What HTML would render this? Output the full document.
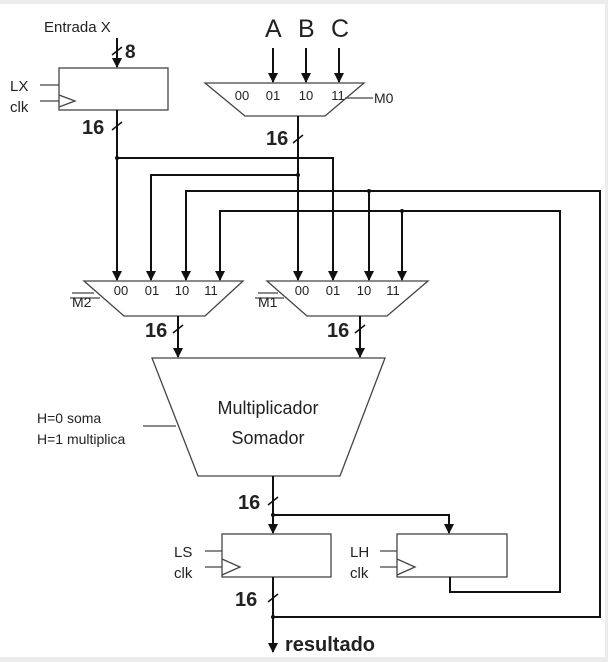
<!DOCTYPE html>
<html><head><style>
html,body{margin:0;padding:0;background:#fff}
svg{display:block}
text{font-family:"Liberation Sans",sans-serif;fill:#222}
</style></head><body>
<svg width="608" height="662" viewBox="0 0 608 662" xmlns="http://www.w3.org/2000/svg">
<defs>
<marker id="a" markerWidth="10" markerHeight="10" refX="5" refY="9" orient="0" markerUnits="userSpaceOnUse">
<path d="M0,0 L10,0 L5,10 Z" fill="#111"/></marker>
</defs>
<rect x="0" y="0" width="608" height="4" fill="#ececec"/>
<rect x="0" y="657" width="608" height="5" fill="#ececec"/>
<rect x="605" y="0" width="3" height="662" fill="#ececec"/>

<g stroke="#444" stroke-width="1.3" fill="none">
<rect x="59" y="68" width="109" height="42"/>
<path d="M59,95 L75,101 L59,107"/>
<line x1="40" y1="85" x2="59" y2="85"/>
<line x1="40" y1="101" x2="59" y2="101"/>
<polygon points="205,83 364,83 325,116 245,116"/>
<line x1="345" y1="98" x2="373" y2="98"/>
<polygon points="84,281 243,281 205,316 124,316"/>
<line x1="70" y1="298" x2="100" y2="298"/>
<polygon points="267,281 428,281 387,316 307,316"/>
<line x1="255" y1="298" x2="284" y2="298"/>
<polygon points="152,358 385,358 340,476 198,476"/>
<line x1="143" y1="426" x2="176" y2="426"/>
<rect x="222" y="534" width="109" height="43"/>
<path d="M222,559 L240,567 L222,575"/>
<line x1="205" y1="551" x2="222" y2="551"/>
<line x1="205" y1="567" x2="222" y2="567"/>
<rect x="397" y="534" width="110" height="43"/>
<path d="M397,559 L415,567 L397,575"/>
<line x1="380" y1="551" x2="397" y2="551"/>
<line x1="380" y1="567" x2="397" y2="567"/>
<line x1="72" y1="293" x2="94" y2="293"/>
<line x1="258" y1="293" x2="278" y2="293"/>
</g>

<g stroke="#111" stroke-width="2" fill="none">
<line x1="117" y1="38" x2="117" y2="67" marker-end="url(#a)"/>
<line x1="273" y1="48" x2="273" y2="82" marker-end="url(#a)"/>
<line x1="306" y1="48" x2="306" y2="82" marker-end="url(#a)"/>
<line x1="339" y1="48" x2="339" y2="82" marker-end="url(#a)"/>
<line x1="117" y1="110" x2="117" y2="280" marker-end="url(#a)"/>
<polyline points="117,158 333,158 333,280" marker-end="url(#a)"/>
<line x1="298" y1="116" x2="298" y2="280" marker-end="url(#a)"/>
<polyline points="298,175 151,175 151,280" marker-end="url(#a)"/>
<polyline points="273,600 273,617 600,617 600,191 186,191 186,280" marker-end="url(#a)"/>
<line x1="369" y1="191" x2="369" y2="280" marker-end="url(#a)"/>
<polyline points="450,577 450,592 560,592 560,211 220,211 220,280" marker-end="url(#a)"/>
<line x1="402" y1="211" x2="402" y2="280" marker-end="url(#a)"/>
<line x1="178" y1="316" x2="178" y2="357" marker-end="url(#a)"/>
<line x1="360" y1="316" x2="360" y2="357" marker-end="url(#a)"/>
<line x1="273" y1="476" x2="273" y2="533" marker-end="url(#a)"/>
<polyline points="273,515 449,515 449,533" marker-end="url(#a)"/>
<line x1="273" y1="577" x2="273" y2="652" marker-end="url(#a)"/>
</g>
<g stroke="#111" stroke-width="1.5">
<line x1="112" y1="55" x2="122" y2="47"/>
<line x1="112" y1="130" x2="122" y2="122"/>
<line x1="293" y1="143" x2="303" y2="135"/>
<line x1="173" y1="333" x2="183" y2="325"/>
<line x1="355" y1="333" x2="365" y2="325"/>
<line x1="268" y1="505" x2="278" y2="497"/>
<line x1="268" y1="602" x2="278" y2="594"/>
</g>
<g fill="#111">
<circle cx="117" cy="158" r="2"/><circle cx="298" cy="175" r="2"/>
<circle cx="369" cy="191" r="2"/><circle cx="402" cy="211" r="2"/>
<circle cx="273" cy="515" r="2"/><circle cx="273" cy="617" r="2"/>
</g>

<text x="44" y="32" font-size="15">Entrada X</text>
<text x="125" y="58" font-size="19" font-weight="bold">8</text>
<text x="10" y="91" font-size="15">LX</text>
<text x="10" y="112" font-size="15">clk</text>
<text x="82" y="134" font-size="20" font-weight="bold">16</text>
<text x="265" y="37" font-size="25">A</text>
<text x="298" y="37" font-size="25">B</text>
<text x="331" y="37" font-size="25">C</text>
<g font-size="13" text-anchor="middle">
<text x="242" y="100">00</text><text x="273" y="100">01</text><text x="306" y="100">10</text><text x="338" y="100">11</text>
<text x="121" y="295">00</text><text x="152" y="295">01</text><text x="182" y="295">10</text><text x="211" y="295">11</text>
<text x="302" y="295">00</text><text x="333" y="295">01</text><text x="364" y="295">10</text><text x="393" y="295">11</text>
</g>
<text x="374" y="103" font-size="14">M0</text>
<text x="266" y="145" font-size="20" font-weight="bold">16</text>
<text x="72" y="307" font-size="14">M2</text>
<text x="258" y="307" font-size="14">M1</text>
<text x="145" y="337" font-size="20" font-weight="bold">16</text>
<text x="327" y="337" font-size="20" font-weight="bold">16</text>
<text x="37" y="423" font-size="14">H=0 soma</text>
<text x="37" y="444" font-size="14">H=1 multiplica</text>
<text x="268" y="414" font-size="18" text-anchor="middle">Multiplicador</text>
<text x="268" y="444" font-size="18" text-anchor="middle">Somador</text>
<text x="238" y="509" font-size="20" font-weight="bold">16</text>
<text x="174" y="557" font-size="15">LS</text>
<text x="174" y="578" font-size="15">clk</text>
<text x="350" y="557" font-size="15">LH</text>
<text x="350" y="578" font-size="15">clk</text>
<text x="235" y="606" font-size="20" font-weight="bold">16</text>
<text x="285" y="651" font-size="20" font-weight="bold">resultado</text>
</svg>
</body></html>
